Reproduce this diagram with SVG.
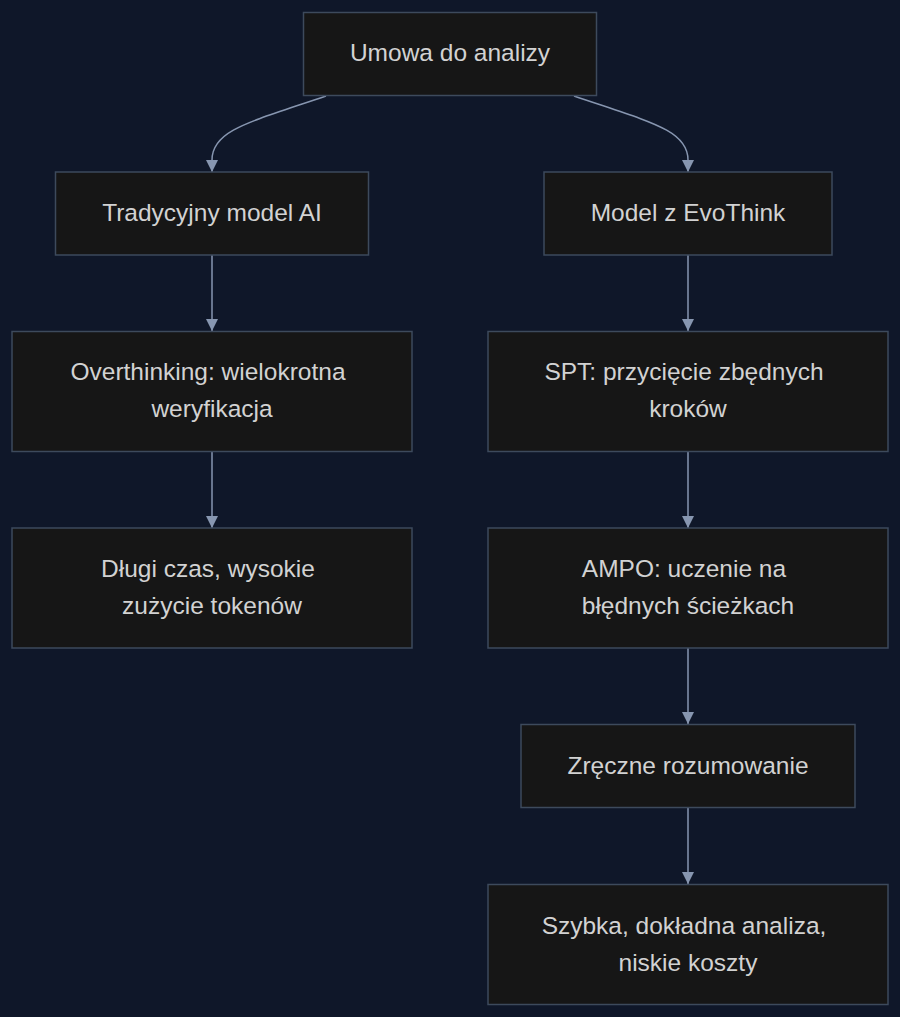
<svg xmlns="http://www.w3.org/2000/svg" width="900" height="1017" viewBox="0 0 900 1017">
<style>
.node rect{fill:#161616;stroke:#3d4a5c;stroke-width:1.5}
.node text{font-family:"Liberation Sans",Arial,sans-serif;font-size:24.5px;fill:#d2d2d2;text-anchor:middle}
.edges path{fill:none;stroke:#8796b0;stroke-width:1.5}
</style>
<defs>
<marker id="arr" viewBox="0 0 12 12" refX="12" refY="6" markerWidth="12" markerHeight="12" markerUnits="userSpaceOnUse" orient="auto">
<path d="M0,0 L12,6 L0,12 z" fill="#8796b0"/>
</marker>
</defs>
<rect width="900" height="1017" fill="#0f1729"/>
<g class="edges">
<path d="M326,96 C250,122 212,130 212,160 L212,172" marker-end="url(#arr)"/>
<path d="M574,96 C650,122 688,130 688,160 L688,172" marker-end="url(#arr)"/>
<path d="M212,255 L212,331" marker-end="url(#arr)"/>
<path d="M212,452 L212,528" marker-end="url(#arr)"/>
<path d="M688,255 L688,331" marker-end="url(#arr)"/>
<path d="M688,452 L688,528" marker-end="url(#arr)"/>
<path d="M688,648 L688,724" marker-end="url(#arr)"/>
<path d="M688,808 L688,884" marker-end="url(#arr)"/>
</g>
<g id="n1" class="node"><rect x="303.5" y="12.5" width="293" height="83"/><text x="450" y="61">Umowa do analizy</text></g>
<g id="n2" class="node"><rect x="55.5" y="172" width="313" height="83"/><text x="212" y="221">Tradycyjny model AI</text></g>
<g id="n3" class="node"><rect x="544" y="172" width="288" height="83"/><text x="688" y="221">Model z EvoThink</text></g>
<g id="n4" class="node"><rect x="12" y="331.5" width="400" height="120"/><text x="208" y="380">Overthinking: wielokrotna</text><text x="212" y="417">weryfikacja</text></g>
<g id="n5" class="node"><rect x="12" y="528" width="400" height="120"/><text x="208" y="577">Długi czas, wysokie</text><text x="212" y="614">zużycie tokenów</text></g>
<g id="n6" class="node"><rect x="488" y="331.5" width="400" height="120"/><text x="684" y="380">SPT: przycięcie zbędnych</text><text x="688" y="417">kroków</text></g>
<g id="n7" class="node"><rect x="488" y="528" width="400" height="120"/><text x="684" y="577">AMPO: uczenie na</text><text x="688" y="614">błędnych ścieżkach</text></g>
<g id="n8" class="node"><rect x="521" y="724.5" width="334" height="83"/><text x="688" y="774">Zręczne rozumowanie</text></g>
<g id="n9" class="node"><rect x="488" y="884.5" width="400" height="120"/><text x="684" y="934">Szybka, dokładna analiza,</text><text x="688" y="971">niskie koszty</text></g>
</svg>
